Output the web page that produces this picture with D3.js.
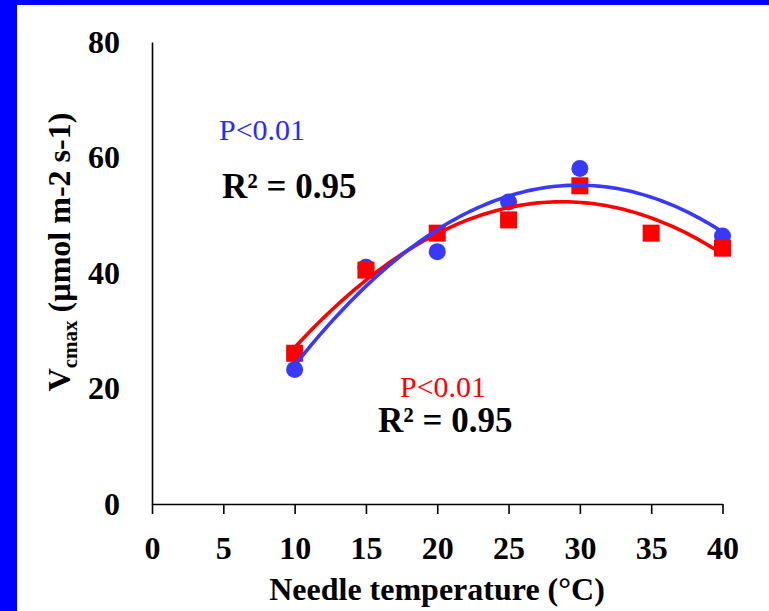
<!DOCTYPE html>
<html>
<head>
<meta charset="utf-8">
<script src="https://cdn.jsdelivr.net/npm/d3@7"></script>
<style>
  html, body { margin: 0; padding: 0; background: #fff; }
  svg { display: block; }
  text { font-family: "Liberation Serif", "Times New Roman", serif; }
</style>
</head>
<body>
<svg id="chart" width="769" height="611"></svg>
<script>
// Needle temperature (°C) at which Vcmax was measured
const blueTemps = [10, 15, 20, 25, 30, 40];
const blueVcmax = [23.3, 41.0, 43.7, 52.3, 58.1, 46.4];

const redTemps = [10, 15, 20, 25, 30, 35, 40];
const redVcmax = [26.1, 40.5, 46.9, 49.2, 55.1, 46.9, 44.3];

const xTicks = [0, 5, 10, 15, 20, 25, 30, 35, 40];
const yTicks = [0, 20, 40, 60, 80];

const BLUE = "#3838ff";
const RED = "#ff0000";

const svg = d3.select("#chart");
const W = 769, H = 611;

// frame strips along the top and left edges
svg.append("rect").attr("x", 0).attr("y", 0).attr("width", W).attr("height", 5).attr("fill", "#0000ff");
svg.append("rect").attr("x", 0).attr("y", 0).attr("width", 17).attr("height", H).attr("fill", "#0000ff");

const x = d3.scaleLinear().domain([0, 40]).range([152, 722.5]);
const y = d3.scaleLinear().domain([0, 80]).range([504, 42]);

// x axis
const xAxis = svg.append("g")
  .attr("transform", `translate(0,${y(0)})`)
  .call(d3.axisBottom(x).tickValues(xTicks).tickSize(10).tickPadding(22).tickSizeOuter(0));
xAxis.select(".domain").attr("stroke", "#000").attr("stroke-width", 1.6);
xAxis.selectAll(".tick line").attr("stroke", "#000").attr("stroke-width", 1.6);
xAxis.selectAll(".tick text")
  .attr("font-family", "Liberation Serif").attr("font-weight", "bold")
  .attr("font-size", 32).attr("fill", "#000");

// y axis (no tick marks)
const yAxis = svg.append("g")
  .attr("transform", `translate(${x(0)},0)`)
  .call(d3.axisLeft(y).tickValues(yTicks).tickSize(0).tickPadding(32).tickSizeOuter(0));
yAxis.select(".domain").attr("stroke", "#000").attr("stroke-width", 1.6);
yAxis.selectAll(".tick text")
  .attr("font-family", "Liberation Serif").attr("font-weight", "bold")
  .attr("font-size", 32).attr("fill", "#000");

// axis titles
svg.append("text")
  .attr("x", 437).attr("y", 600)
  .attr("text-anchor", "middle")
  .attr("font-weight", "bold").attr("font-size", 32)
  .text("Needle temperature (°C)");

const yTitle = svg.append("text")
  .attr("transform", "translate(70,252) rotate(-90)")
  .attr("text-anchor", "middle")
  .attr("font-weight", "bold").attr("font-size", 32);
yTitle.append("tspan").text("V");
yTitle.append("tspan").attr("font-size", 21).attr("dy", 7).text("cmax");
yTitle.append("tspan").attr("dy", -7).text(" (µmol m-2 s-1)");

// second-order polynomial least-squares trendline
function quadFit(xs, ys) {
  const n = xs.length;
  let s = [0, 0, 0, 0, 0], t = [0, 0, 0];
  for (let i = 0; i < n; i++) {
    const xi = xs[i], yi = ys[i];
    for (let k = 0; k <= 4; k++) s[k] += Math.pow(xi, k);
    for (let k = 0; k <= 2; k++) t[k] += yi * Math.pow(xi, k);
  }
  const A = [[s[0], s[1], s[2], t[0]], [s[1], s[2], s[3], t[1]], [s[2], s[3], s[4], t[2]]];
  for (let c = 0; c < 3; c++) {
    let p = c;
    for (let r = c + 1; r < 3; r++) if (Math.abs(A[r][c]) > Math.abs(A[p][c])) p = r;
    [A[c], A[p]] = [A[p], A[c]];
    for (let r = 0; r < 3; r++) {
      if (r === c) continue;
      const f = A[r][c] / A[c][c];
      for (let k = c; k < 4; k++) A[r][k] -= f * A[c][k];
    }
  }
  const coef = A.map((row, i) => row[3] / row[i]);
  return v => coef[0] + coef[1] * v + coef[2] * v * v;
}

function trend(xs, ys) {
  const f = quadFit(xs, ys);
  const lo = d3.min(xs), hi = d3.max(xs);
  return d3.range(0, 101).map(i => {
    const v = lo + (hi - lo) * i / 100;
    return [v, f(v)];
  });
}

const line = d3.line().x(d => x(d[0])).y(d => y(d[1])).curve(d3.curveLinear);

const blueData = blueTemps.map((t, i) => ({ t, v: blueVcmax[i] }));
const redData = redTemps.map((t, i) => ({ t, v: redVcmax[i] }));

// markers
svg.append("g").selectAll("circle").data(blueData).join("circle")
  .attr("cx", d => x(d.t)).attr("cy", d => y(d.v)).attr("r", 8.5)
  .attr("fill", BLUE);

const sq = 17;
svg.append("g").selectAll("rect").data(redData).join("rect")
  .attr("x", d => x(d.t) - sq / 2).attr("y", d => y(d.v) - sq / 2)
  .attr("width", sq).attr("height", sq)
  .attr("fill", RED);

// trendlines
svg.append("path").datum(trend(redTemps, redVcmax))
  .attr("d", line).attr("fill", "none").attr("stroke", RED).attr("stroke-width", 3.6);
svg.append("path").datum(trend(blueTemps, blueVcmax))
  .attr("d", line).attr("fill", "none").attr("stroke", BLUE).attr("stroke-width", 3.6);

// fit annotations
svg.append("text").attr("x", 219).attr("y", 140)
  .attr("font-size", 30).attr("fill", "#2a2aff").text("P<0.01");
svg.append("text").attr("x", 222).attr("y", 198)
  .attr("font-size", 35).attr("font-weight", "bold").attr("fill", "#000").text("R² = 0.95");

svg.append("text").attr("x", 400).attr("y", 397)
  .attr("font-size", 30).attr("fill", RED).text("P<0.01");
svg.append("text").attr("x", 378).attr("y", 432)
  .attr("font-size", 35).attr("font-weight", "bold").attr("fill", "#000").text("R² = 0.95");
</script>
</body>
</html>
